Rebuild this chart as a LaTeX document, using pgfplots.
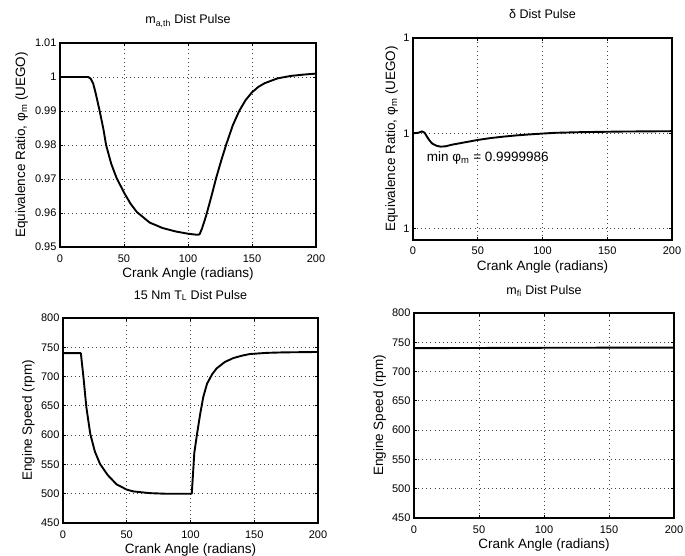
\documentclass[border=0pt]{standalone}
\usepackage{fontspec}
\setmainfont{Liberation Sans}
\usepackage{pgfplots}
\pgfplotsset{compat=1.18}

\newcommand{\tickfont}{\fontsize{11}{13}\selectfont}
\newcommand{\labfont}{\fontsize{13.5}{15}\selectfont}
\newcommand{\titfont}{\fontsize{12.5}{14}\selectfont}

\pgfplotsset{
  matfig/.style={
    scale only axis,
    xmin=0, xmax=200,
    xtick={0,50,100,150,200},
    grid=major,
    grid style={black!75, line width=0.8pt, dash pattern=on 0.8pt off 3.3pt},
    axis line style={line width=1.6pt},
    tick align=inside,
    major tick length=3pt,
    tick style={black, line width=0.8pt},
    ticklabel style={font=\tickfont},
    xticklabel style={anchor=base, yshift=-15pt},
    /pgf/number format/assume math mode=true,
    xlabel={Crank Angle (radians)},
    every axis x label/.style={at={(axis description cs:0.5,0)}, anchor=base, yshift=-30pt, font=\labfont},
    every axis title/.style={at={(axis description cs:0.5,1)}, anchor=base, yshift=19pt, font=\titfont},
  },
  ylab/.style={every axis y label/.style={at={(axis description cs:0,0.5)}, xshift=-#1, rotate=90, anchor=base, font=\labfont}},
  curve/.style={black, no markers, line width=1.9pt, line join=round},
}

\begin{document}
\begin{tikzpicture}
\useasboundingbox (0pt,0pt) rectangle (685pt,555pt);

% top left
\begin{axis}[matfig, ylab=35pt,
  at={(60pt,308pt)}, anchor=south west, width=256pt, height=204pt,
  ymin=0.95, ymax=1.01,
  ytick={0.95,0.96,0.97,0.98,0.99,1,1.01},
  yticklabels={0.95,0.96,0.97,0.98,0.99,1,1.01},
  title={m\textsubscript{a,th} Dist Pulse},
  ylabel={Equivalence Ratio, φ\textsubscript{m} (UEGO)},
]
\addplot[curve] coordinates {
 (0,1) (22,1) (24,0.9995) (26,0.998) (28,0.995) (31,0.990) (34,0.9845)
 (36,0.980) (40,0.9745) (44,0.9705) (50,0.9660) (55,0.9628) (60,0.9603)
 (70,0.9572) (80,0.9556) (90,0.9546) (100,0.9539) (107,0.9536) (109,0.9537)
 (111,0.9555) (114,0.9590) (118,0.9645) (122,0.9703) (126,0.9755)
 (130,0.9803) (135,0.9858) (140,0.9900) (145,0.9932) (150,0.9955)
 (155,0.9971) (160,0.9982) (170,0.9996) (180,1.0003) (190,1.0007) (200,1.0010)
};
\end{axis}

% top right (values stored as 1e6*(phi_m - 1))
\begin{axis}[matfig, ylab=18pt,
  at={(413pt,315pt)}, anchor=south west, width=259pt, height=202pt,
  ymin=-11.2, ymax=10,
  ytick={-10,0,10}, yticklabels={1,1,1},
  title={δ Dist Pulse},
  ylabel={Equivalence Ratio, φ\textsubscript{m} (UEGO)},
]
\addplot[curve] coordinates {
 (0,0) (4,0.05) (7,0.2) (9,0.05) (11,-0.4) (13,-0.8) (15,-1.1) (18,-1.3)
 (21,-1.4) (25,-1.37) (30,-1.2) (40,-0.95) (50,-0.7) (60,-0.5) (70,-0.35)
 (80,-0.22) (90,-0.12) (100,-0.03) (110,0.05) (130,0.12) (160,0.18) (200,0.22)
};
\node[anchor=west, font=\labfont] at (axis cs:8,-2.6) {min φ\textsubscript{m} = 0.9999986};
\end{axis}

% bottom left
\begin{axis}[matfig, ylab=31pt,
  at={(63pt,32pt)}, anchor=south west, width=255pt, height=205pt,
  ymin=450, ymax=800,
  ytick={450,500,...,800},
  title={15 Nm T\textsubscript{L} Dist Pulse},
  ylabel={Engine Speed (rpm)},
]
\addplot[curve] coordinates {
 (0,740) (14,740) (16,700) (18.3,648) (21.4,602) (25,572) (29,551) (35,532)
 (42,516) (50,507) (55,504) (68,501) (80,500) (100,500) (101,500)
 (103,570) (105,600) (107.5,635) (110,665) (113,688) (117,704) (120.5,714)
 (127,725) (133.5,731.5) (140,735.5) (146.5,738.5) (160,740.5) (172.5,741.3)
 (200,742)
};
\end{axis}

% bottom right
\begin{axis}[matfig, ylab=31pt,
  at={(414pt,37pt)}, anchor=south west, width=260pt, height=205pt,
  ymin=450, ymax=800,
  ytick={450,500,...,800},
  title={m\textsubscript{fi} Dist Pulse},
  ylabel={Engine Speed (rpm)},
]
\addplot[curve] coordinates {
 (0,740) (50,740.3) (100,740.6) (150,740.8) (200,741)
};
\end{axis}
\end{tikzpicture}
\end{document}
